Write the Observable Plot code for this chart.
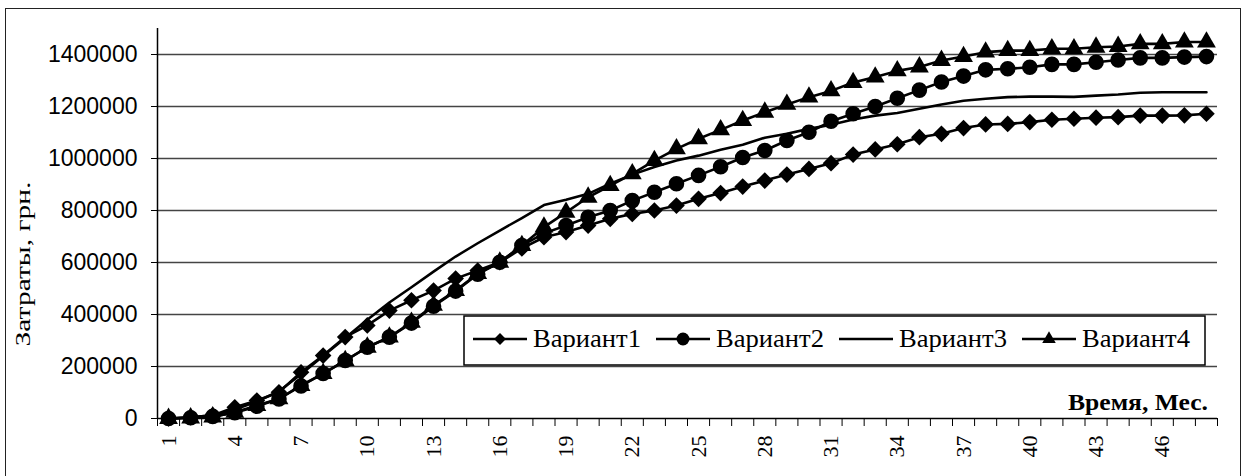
<!DOCTYPE html>
<html>
<head>
<meta charset="utf-8">
<script src="https://cdn.jsdelivr.net/npm/d3@7"></script>
<script src="https://cdn.jsdelivr.net/npm/@observablehq/plot@0.6"></script>
<style>
html, body { margin: 0; padding: 0; background: #fff; }
#wrap { position: relative; width: 1243px; height: 476px; overflow: hidden; background: #fff; }
#border { position: absolute; left: 5px; top: 8px; width: 1236px; height: 520px; border: 1.5px solid #222; box-sizing: border-box; }
#wrap svg { position: absolute; left: 0; top: 0; }
</style>
</head>
<body>
<div id="wrap"><div id="border"></div></div>
<script>
// ---- data ----
const months = [1,2,3,4,5,6,7,8,9,10,11,12,13,14,15,16,17,18,19,20,21,22,23,24,25,26,27,28,29,30,31,32,33,34,35,36,37,38,39,40,41,42,43,44,45,46,47,48];
const seriesNames = ["Вариант1", "Вариант2", "Вариант3", "Вариант4"];
const variant1 = [0,5000,12000,43000,69000,101000,178000,242000,313000,358000,415000,455000,492000,538000,569000,601000,654000,697000,717000,742000,768000,787000,800000,819000,845000,867000,892000,915000,938000,960000,982000,1015000,1035000,1055000,1082000,1095000,1117000,1131000,1133000,1140000,1149000,1153000,1157000,1159000,1165000,1165000,1166000,1172000];
const variant2 = [0,3000,8000,22000,47000,75000,125000,173000,223000,274000,313000,367000,432000,490000,555000,601000,665000,712000,742000,774000,800000,838000,870000,903000,935000,968000,1004000,1031000,1069000,1101000,1143000,1172000,1200000,1232000,1263000,1294000,1317000,1341000,1345000,1351000,1362000,1362000,1370000,1379000,1387000,1387000,1390000,1392000];
const variant3 = [0,5000,12000,35000,65000,105000,170000,240000,310000,380000,446000,505000,565000,623000,674000,723000,771000,821000,841000,864000,903000,938000,967000,992000,1011000,1034000,1053000,1080000,1095000,1114000,1130000,1150000,1165000,1175000,1191000,1208000,1222000,1230000,1236000,1238000,1238000,1237000,1242000,1246000,1253000,1255000,1255000,1255000];
const variant4 = [0,2000,6000,24000,50000,76000,127000,173000,223000,274000,313000,370000,435000,492000,557000,601000,665000,736000,793000,851000,896000,941000,992000,1037000,1076000,1110000,1146000,1178000,1208000,1236000,1260000,1292000,1313000,1337000,1352000,1377000,1392000,1409000,1415000,1415000,1422000,1422000,1428000,1431000,1441000,1441000,1448000,1448000];
const yTicks = [0,200000,400000,600000,800000,1000000,1200000,1400000];
const xLabels = [1,4,7,10,13,16,19,22,25,28,31,34,37,40,43,46];
const yTitle = "Затраты, грн.";
const xTitle = "Время, Мес.";

// ---- build table ----
const seriesValues = [variant1, variant2, variant3, variant4];
const rows = [];
seriesNames.forEach((name, s) => {
  months.forEach((m, i) => rows.push({series: name, month: m, value: seriesValues[s][i]}));
});
const boundaries = months.map(m => m - 0.5).concat([months[months.length - 1] + 0.5]);
const bySeries = name => rows.filter(d => d.series === name);
const SERIF = "Liberation Serif, Times New Roman, serif";

const chart = Plot.plot({
  width: 1243,
  height: 476,
  marginLeft: 157,
  marginRight: 26,
  marginTop: 28,
  marginBottom: 58,
  x: {type: "linear", domain: [0.5, 48.5]},
  y: {type: "linear", domain: [0, 1500000]},
  style: {fontFamily: SERIF, fontSize: "21px", color: "#000", background: "transparent", overflow: "visible"},
  marks: [
    Plot.ruleY(yTicks.filter(v => v > 0), {stroke: "#444", strokeWidth: 1.4}),
    Plot.axisY({ticks: yTicks, tickSize: 6, tickPadding: 14, tickFormat: d3.format("d"), label: null}),
    Plot.ruleX([0.5], {stroke: "#000", strokeWidth: 1.5}),
    Plot.ruleY([0], {stroke: "#000", strokeWidth: 1.5}),
    Plot.axisX({ticks: boundaries, tickSize: 8, tickFormat: () => "", label: null}),
    Plot.text(xLabels, {x: d => d, y: () => 0, text: d => String(d), rotate: -90, textAnchor: "end", lineAnchor: "middle", dy: 17, fontSize: 22, fontFamily: SERIF, fill: "#000"}),
    Plot.line(rows, {x: "month", y: "value", z: "series", stroke: "#000", strokeWidth: 2.6}),
    Plot.dot(bySeries("Вариант1"), {x: "month", y: "value", symbol: () => "diamond2", fill: "#000", r: 7.5}),
    Plot.dot(bySeries("Вариант2"), {x: "month", y: "value", symbol: () => "circle", fill: "#000", r: 7.8}),
    Plot.dot(bySeries("Вариант4"), {x: "month", y: "value", symbol: () => "triangle", fill: "#000", r: 7})
  ]
});

const wrap = document.getElementById("wrap");
wrap.appendChild(chart);
const svgSel = d3.select(chart.tagName.toLowerCase() === "svg" ? chart : chart.querySelector("svg"));
svgSel.selectAll('g[aria-label="y-axis tick label"]').attr("font-family", "Liberation Sans, Arial, sans-serif").attr("font-size", 23);
svgSel.selectAll('g[aria-label="y-axis tick label"] text').attr("font-family", "Liberation Sans, Arial, sans-serif").attr("font-size", 23);

// ---- overlay: titles and legend ----
const ov = d3.select(wrap).append("svg").attr("width", 1243).attr("height", 476);

ov.append("text")
  .attr("font-family", SERIF)
  .attr("transform", "translate(22,264) rotate(-90)")
  .attr("text-anchor", "middle").attr("dominant-baseline", "central")
  .attr("font-size", 22).attr("textLength", 165).attr("lengthAdjust", "spacingAndGlyphs")
  .text(yTitle);

ov.append("text")
  .attr("font-family", SERIF)
  .attr("x", 1208).attr("y", 410)
  .attr("text-anchor", "end").attr("font-weight", "bold")
  .attr("font-size", 24).attr("textLength", 140).attr("lengthAdjust", "spacingAndGlyphs")
  .text(xTitle);

const lg = ov.append("g");
lg.append("rect").attr("x", 464).attr("y", 316).attr("width", 741).attr("height", 49)
  .attr("fill", "#fff").attr("stroke", "#000").attr("stroke-width", 1.5);
const legendSymbols = [d3.symbolDiamond2, d3.symbolCircle, null, d3.symbolTriangle];
const legendSizes = [90, 130, 0, 80];
seriesNames.forEach((name, i) => {
  const x0 = 473 + i * 183;
  const yc = 339;
  lg.append("line").attr("x1", x0).attr("x2", x0 + 54).attr("y1", yc).attr("y2", yc)
    .attr("stroke", "#000").attr("stroke-width", 2.4);
  if (legendSymbols[i]) {
    lg.append("path").attr("d", d3.symbol(legendSymbols[i], legendSizes[i])())
      .attr("transform", `translate(${x0 + 27},${yc})`).attr("fill", "#000");
  }
  lg.append("text").attr("font-family", SERIF).attr("x", x0 + 60).attr("y", 347)
    .attr("font-size", 26).attr("textLength", 108).attr("lengthAdjust", "spacingAndGlyphs").text(name);
});
</script>
</body>
</html>
